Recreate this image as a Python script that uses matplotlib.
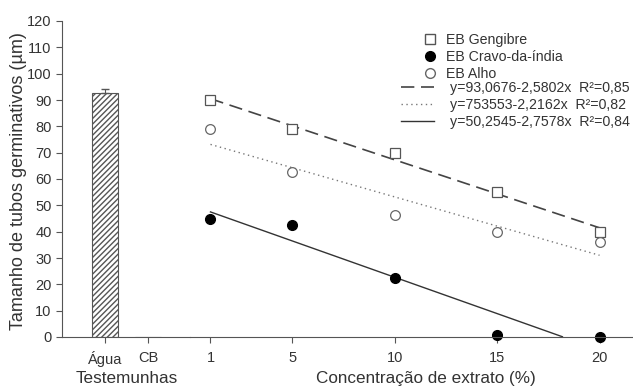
import numpy as np
import matplotlib.pyplot as plt
from matplotlib.lines import Line2D

plt.rcParams['font.family'] = ['Liberation Sans', 'DejaVu Sans']

# controls
ctrl_labels = ['Água', 'CB']
ctrl_values = [92.5, 0]
ctrl_err = [1.5, 0]

# extract concentrations
conc = [1, 5, 10, 15, 20]
gengibre = [90, 79, 70, 55, 40]
cravo = [45, 42.5, 22.5, 0.7, 0]
alho = [79, 62.5, 46.3, 40, 36.2]

# regressions (intercept, slope) from the legend
fit_gengibre = (93.0676, -2.5802)
fit_alho = (75.3553, -2.2162)
fit_cravo = (50.2545, -2.7578)

txt = '#333333'
W, H = 633, 387
fig = plt.figure(figsize=(W / 100, H / 100), dpi=100)

x0, x1, xr = 62, 190, 633
yb, yt = 337, 21
ax1 = fig.add_axes([x0 / W, 1 - yb / H, (x1 - x0) / W, (yb - yt) / H])
ax2 = fig.add_axes([x1 / W, 1 - yb / H, (xr - x1) / W, (yb - yt) / H])

# left panel: bars
xpos = np.arange(len(ctrl_labels))
ax1.bar(xpos, ctrl_values, width=0.6, color='white', edgecolor='#555555',
        hatch='//////', linewidth=0.8)
ax1.errorbar(xpos[:1], ctrl_values[:1], yerr=[[0], ctrl_err[:1]], fmt='none',
             ecolor='#555555', elinewidth=0.8, capsize=3)
ax1.set_xlim(-1, 1.98)
ax1.set_ylim(0, 120)
ax1.set_yticks(np.arange(0, 121, 10))
ax1.set_xticks(xpos)
ax1.set_xticklabels(ctrl_labels)
ax1.set_ylabel('Tamanho de tubos germinativos (µm)', fontsize=13, color=txt)
ax1.yaxis.set_label_coords(-(x0 - 19) / (x1 - x0), (yb - 181) / (yb - yt))
ax1.yaxis.label.set_va('center')
for s in ['top', 'right']:
    ax1.spines[s].set_visible(False)

# right panel: scatter + regression lines
ax2.set_xlim(0, (xr - 189.5) / 20.5)
ax2.set_ylim(0, 120)
xs = np.array([conc[0], conc[-1]], dtype=float)
xx = np.linspace(conc[0], conc[-1], 200)

ax2.plot(xs, fit_gengibre[0] + fit_gengibre[1] * xs, color='#444444',
         lw=1.2, dashes=(8, 4))
ax2.plot(xs, fit_alho[0] + fit_alho[1] * xs, color='#777777',
         lw=1.0, ls=(0, (1, 2.5)))
yc = fit_cravo[0] + fit_cravo[1] * xx
ax2.plot(xx[yc >= 0], yc[yc >= 0], color='#333333', lw=1.0)

ax2.plot(conc, gengibre, 's', ms=7, mfc='white', mec='#555555', mew=0.9, ls='none')
ax2.plot(conc, cravo, 'o', ms=7, mfc='black', mec='black', ls='none', clip_on=False)
ax2.plot(conc, alho, 'o', ms=7, mfc='white', mec='#666666', mew=0.9, ls='none')

ax2.set_xticks(conc)
ax2.set_yticks([])
for s in ['top', 'right', 'left']:
    ax2.spines[s].set_visible(False)

for ax in (ax1, ax2):
    ax.tick_params(colors='#555555', labelcolor=txt, labelsize=10.5, length=4,
                   width=0.8)
    ax.tick_params(axis='x', pad=6)
    ax.spines['bottom'].set_color('#555555')
    ax.spines['left'].set_color('#555555')
    ax.patch.set_alpha(0)

# x axis titles placed by baseline so descenders stay inside the figure
fig.text(127 / W, 1 - 383 / H, 'Testemunhas', fontsize=12.3, color=txt,
         ha='center', va='baseline')
fig.text(426 / W, 1 - 383 / H, 'Concentração de extrato (%)', fontsize=12.3,
         color=txt, ha='center', va='baseline')

mk_handles = [
    Line2D([], [], marker='s', ms=6.5, mfc='white', mec='#555555', ls='none'),
    Line2D([], [], marker='o', ms=7, mfc='black', mec='black', ls='none'),
    Line2D([], [], marker='o', ms=7, mfc='white', mec='#666666', ls='none'),
]
mk_labels = ['EB Gengibre', 'EB Cravo-da-índia', 'EB Alho']
ln_handles = [
    Line2D([], [], color='#444444', lw=1.2, dashes=(8, 4)),
    Line2D([], [], color='#777777', lw=1.0, ls=(0, (1, 2.5))),
    Line2D([], [], color='#333333', lw=1.0),
]
ln_labels = ['y=93,0676-2,5802x  R²=0,85',
             'y=753553-2,2162x  R²=0,82',
             'y=50,2545-2,7578x  R²=0,84']

fs = 10.2
kw = dict(loc='upper left', frameon=False, fontsize=fs, borderpad=0,
          borderaxespad=0, labelspacing=0.22)
leg1 = ax2.legend(mk_handles, mk_labels, handlelength=1.2, handletextpad=0.55,
                  bbox_to_anchor=((421 - x1) / (xr - x1), 1 - (33 - yt) / (yb - yt)), **kw)
ax2.add_artist(leg1)
leg2 = ax2.legend(ln_handles, ln_labels, handlelength=2.3, handletextpad=1.15,
                  bbox_to_anchor=((401 - x1) / (xr - x1), 1 - (81 - yt) / (yb - yt)), **kw)
for lg in (leg1, leg2):
    for t in lg.get_texts():
        t.set_color(txt)

fig.savefig('out.png', dpi=100)
